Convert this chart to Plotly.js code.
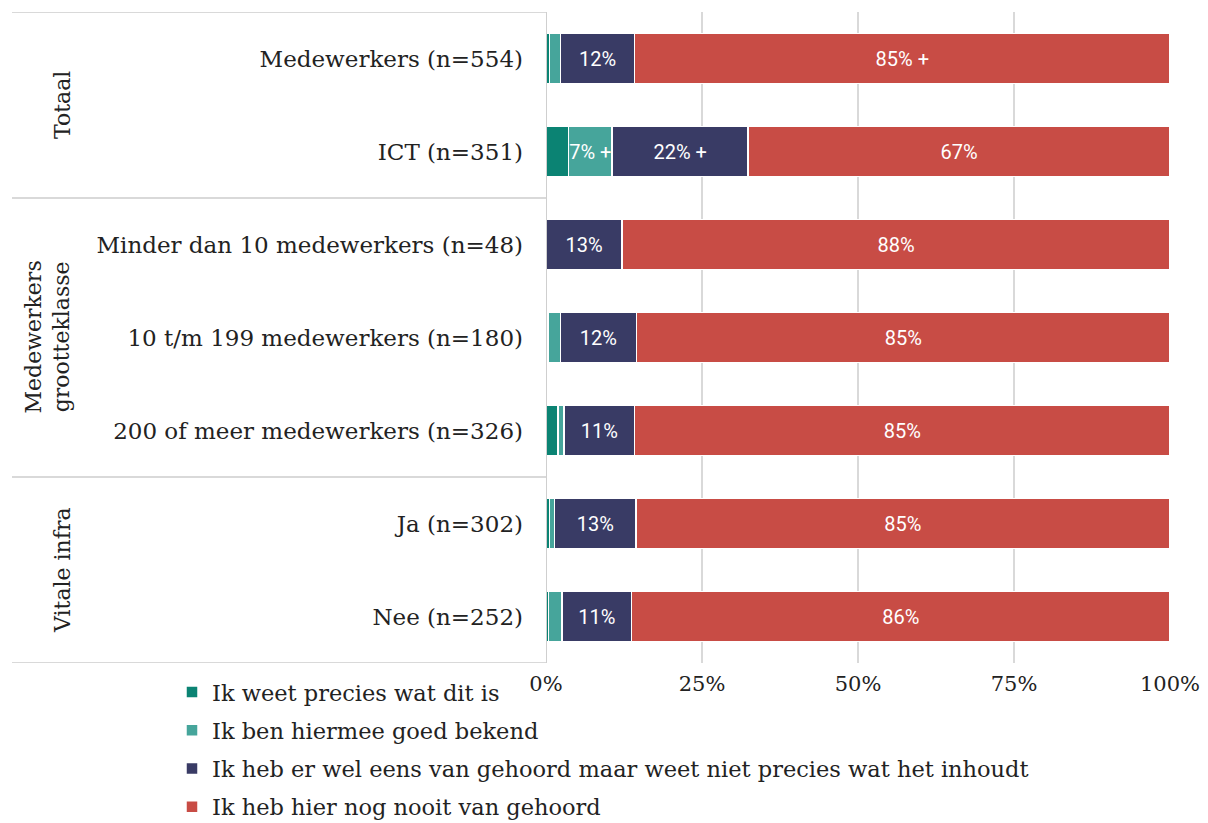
<!DOCTYPE html>
<html lang="nl">
<head>
    <meta charset="UTF-8">
    <title>Bekendheid per groep</title>
    <script src="https://cdn.plot.ly/plotly-3.0.1.min.js"></script>
    <style>
        body { margin: 0; background: #fff; }
        #chart { width: 1208px; height: 823px; }
    </style>
</head>
<body>
    <div id="chart"></div>
    <script>
        // Rows, top to bottom
        const categories = [
            'Medewerkers (n=554)',
            'ICT (n=351)',
            'Minder dan 10 medewerkers (n=48)',
            '10 t/m 199 medewerkers (n=180)',
            '200 of meer medewerkers (n=326)',
            'Ja (n=302)',
            'Nee (n=252)'
        ];

        const seriesNames = [
            'Ik weet precies wat dit is',
            'Ik ben hiermee goed bekend',
            'Ik heb er wel eens van gehoord maar weet niet precies wat het inhoudt',
            'Ik heb hier nog nooit van gehoord'
        ];

        // percentages
        const weetPrecies = [0.6, 3.6, 0, 0.3, 1.9, 0.6, 0.4];
        const goedBekend  = [1.7, 7.0, 0, 2.0, 1.0, 0.8, 2.2];
        const welGehoord  = [11.9, 21.8, 12.2, 12.2, 11.3, 13.0, 11.1];
        const nooitGehoord = [85.8, 67.6, 87.8, 85.5, 85.8, 85.6, 86.3];

        // labels as printed on the bars
        const weetPreciesText = ['', '', '', '', '', '', ''];
        const goedBekendText  = ['', '7% +', '', '', '', '', ''];
        const welGehoordText  = ['12%', '22% +', '13%', '12%', '11%', '13%', '11%'];
        const nooitGehoordText = ['85% +', '67%', '88%', '85%', '85%', '85%', '86%'];

        const xTicks = [0, 25, 50, 75, 100];
        const xTickText = ['0%', '25%', '50%', '75%', '100%'];

        const groups = [
            { label: 'Totaal', from: -0.5, to: 1.5 },
            { label: 'Medewerkers<br>grootteklasse', from: 1.5, to: 4.5 },
            { label: 'Vitale infra', from: 4.5, to: 6.5 }
        ];

        const colors = ['#0b8373', '#46a59b', '#393b65', '#c84c45'];
        const values = [weetPrecies, goedBekend, welGehoord, nooitGehoord];
        const texts = [weetPreciesText, goedBekendText, welGehoordText, nooitGehoordText];

        const serif = 'DejaVu Serif, serif';

        const traces = values.map((vals, i) => ({
            type: 'bar',
            orientation: 'h',
            name: seriesNames[i],
            y: categories.map((_, k) => k),
            x: vals,
            text: texts[i],
            textposition: 'inside',
            insidetextanchor: 'middle',
            textangle: 0,
            constraintext: 'none',
            cliponaxis: false,
            textfont: { family: 'Roboto, sans-serif', size: 20, color: '#ffffff' },
            marker: { color: colors[i], line: { color: '#ffffff', width: 1.5 } },
            legendgroup: 'g' + i,
            hoverinfo: 'name+x'
        }));

        const plotLeft = 546, plotWidth = 624;
        const plotTop = 12, plotHeight = 651;
        const px = x => (x - plotLeft) / plotWidth;

        const shapes = [];
        [-0.5, 1.5, 4.5, 6.5].forEach(b => {
            shapes.push({
                type: 'line', xref: 'paper', yref: 'y',
                x0: px(12), x1: 0, y0: b, y1: b,
                line: { color: '#d9d9d9', width: 2 }
            });
        });

        const annotations = groups.map(g => ({
            xref: 'paper', yref: 'y',
            x: g.label.includes('<br>') ? px(47) : px(62),
            y: (g.from + g.to) / 2,
            text: g.label,
            textangle: -90,
            showarrow: false,
            font: { family: serif, size: 22, color: '#222' },
            xanchor: 'center', yanchor: 'middle'
        }));

        const layout = {
            width: 1208,
            height: 823,
            margin: {
                l: plotLeft, r: 1208 - plotLeft - plotWidth,
                t: plotTop, b: 823 - plotTop - plotHeight,
                autoexpand: false
            },
            barmode: 'stack',
            bargap: 0.46,
            paper_bgcolor: '#ffffff',
            plot_bgcolor: '#ffffff',
            xaxis: {
                range: [0, 100],
                tickvals: xTicks,
                ticktext: xTickText,
                showgrid: true,
                gridcolor: '#d9d9d9',
                gridwidth: 2,
                zeroline: false,
                showline: false,
                side: 'bottom',
                ticks: '',
                ticklabelstandoff: 6,
                tickfont: { family: serif, size: 21, color: '#222' },
                fixedrange: true
            },
            yaxis: {
                range: [6.5, -0.5],
                tickvals: categories.map((_, k) => k),
                ticktext: categories,
                ticks: '',
                ticklabelstandoff: 22,
                showgrid: false,
                zeroline: false,
                showline: false,
                tickfont: { family: serif, size: 23, color: '#222' },
                fixedrange: true
            },
            showlegend: true,
            legend: {
                orientation: 'v',
                x: px(172),
                xanchor: 'left',
                y: -0.012,
                yanchor: 'top',
                traceorder: 'grouped',
                tracegroupgap: 6,
                itemwidth: 30,
                font: { family: serif, size: 22.5, color: '#222' },
                bgcolor: 'rgba(0,0,0,0)'
            },
            shapes: shapes.concat([{
                type: 'line', xref: 'x', yref: 'paper',
                x0: 0, x1: 0, y0: 0, y1: 1,
                line: { color: '#cfcfcf', width: 2 }
            }]),
            annotations: annotations
        };

        Plotly.newPlot('chart', traces, layout, { displayModeBar: false, staticPlot: true });
    </script>
</body>
</html>
